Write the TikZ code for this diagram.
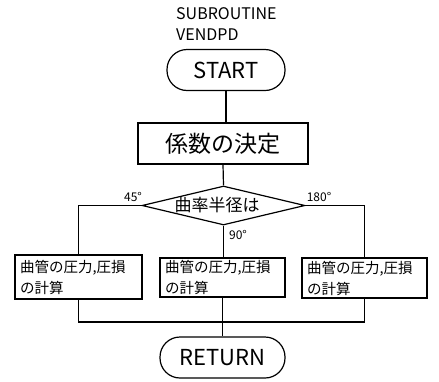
\documentclass[tikz,border=0pt]{standalone}
\usepackage{fontspec}
\setmainfont{Noto Sans CJK JP}
\usetikzlibrary{shapes.geometric}
\tikzset{
  line/.style={line width=1.2pt},
  term/.style={draw, line width=1.2pt, rectangle, rounded corners=20pt, inner sep=0pt, font=\fontsize{22}{24}\selectfont},
  procbox/.style={draw, line width=1.2pt, rectangle, inner sep=0pt},
  calcbox/.style={draw, line width=1.2pt, rectangle, inner xsep=5pt, inner ysep=0pt, align=left, font=\fontsize{14.5}{21}\selectfont},
  decbox/.style={draw, line width=1.2pt, diamond, inner sep=0pt},
  lbl/.style={inner sep=0pt, font=\fontsize{12}{14}\selectfont},
  hdr/.style={inner sep=0pt, anchor=west, font=\fontsize{16}{18}\selectfont}
}
\begin{document}
\begin{tikzpicture}[x=1pt,y=-1pt]
\useasboundingbox (0,0) rectangle (439,381);
\node[hdr] (sub) at (176,14) {SUBROUTINE};
\node[hdr] (name) at (176,35) {VENDPD};
\node[term, minimum width=118pt, minimum height=41pt] (start) at (226,70) {START};
\node[procbox, minimum width=170pt, minimum height=41pt, font=\fontsize{23}{25}\selectfont] (coef) at (223,143.5) {係数の決定};
\node[decbox, minimum width=163pt, minimum height=39pt] (dec) at (223.5,205.5) {};
\node[inner sep=0pt, font=\fontsize{17}{19}\selectfont] (dectext) at (217,205) {曲率半径は};
\node[calcbox, minimum width=127pt, minimum height=44pt, text width=117pt] (boxL) at (78.5,277) {曲管の圧力,圧損\\の計算};
\node[calcbox, minimum width=125pt, minimum height=39pt, text width=115pt] (boxM) at (222.5,277.5) {曲管の圧力,圧損\\の計算};
\node[calcbox, minimum width=125pt, minimum height=40pt, text width=115pt] (boxR) at (364.5,278) {曲管の圧力,圧損\\の計算};
\node[term, minimum width=125pt, minimum height=41pt] (ret) at (222.5,357.5) {RETURN};
\node[lbl] (l45) at (133,197) {45°};
\node[lbl] (l180) at (319,197) {180°};
\node[lbl] (l90) at (238,235) {90°};
\coordinate (j) at (0,322);
\draw[line] (start.south) -- (start.south |- coef.north);
\draw[line] (coef.south) -- (dec.north);
\draw[line] (dec.west) -| (boxL.north);
\draw[line] (dec.east) -| (boxR.north);
\draw[line] (dec.south) -- (dec.south |- boxM.north);
\draw[line] (boxL.south) -- (boxL.south |- j) -- (boxR.south |- j) -- (boxR.south);
\draw[line] (boxM.south) -- (ret.north);
\end{tikzpicture}
\end{document}
